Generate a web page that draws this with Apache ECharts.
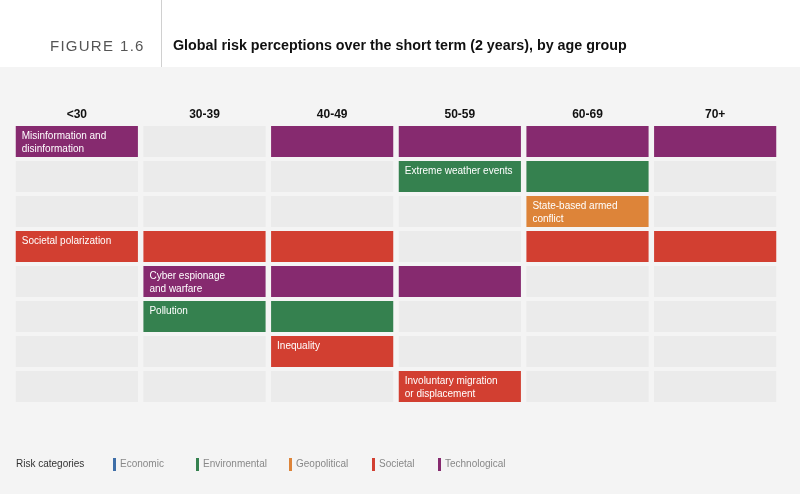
<!DOCTYPE html>
<html>
<head>
<meta charset="utf-8">
<script src="https://cdn.jsdelivr.net/npm/echarts@6/dist/echarts.min.js"></script>
<style>
html,body{margin:0;padding:0;background:#fff;}
#main{width:800px;height:494px;}
</style>
</head>
<body>
<div id="main"></div>
<script>
// ---- data ----
var ageGroups = ['<30', '30-39', '40-49', '50-59', '60-69', '70+'];
var risks = ['Misinformation and\ndisinformation', 'Extreme weather events', 'State-based armed\nconflict', 'Societal polarization', 'Cyber espionage\nand warfare', 'Pollution', 'Inequality', 'Involuntary migration\nor displacement'];
var riskCategory = ['Technological', 'Environmental', 'Geopolitical', 'Societal', 'Technological', 'Environmental', 'Societal', 'Societal'];
var categories = ['Economic', 'Environmental', 'Geopolitical', 'Societal', 'Technological'];
var categoryColors = ['#3e6ea8', '#35814f', '#dd8439', '#d23f31', '#862a6f'];
// 1 = risk is in the age group's top list (rows follow risks order)
var inTop_u30   = [1, 0, 0, 1, 0, 0, 0, 0];
var inTop_30_39 = [0, 0, 0, 1, 1, 1, 0, 0];
var inTop_40_49 = [1, 0, 0, 1, 1, 1, 1, 0];
var inTop_50_59 = [1, 1, 0, 0, 1, 0, 0, 1];
var inTop_60_69 = [1, 1, 1, 1, 0, 0, 0, 0];
var inTop_70p   = [1, 0, 0, 1, 0, 0, 0, 0];
var matrix = [inTop_u30, inTop_30_39, inTop_40_49, inTop_50_59, inTop_60_69, inTop_70p];

// ---- build series ----
var greyData = [];
var catData = categories.map(function(){ return []; });
var labelled = {};
for (var c = 0; c < ageGroups.length; c++) {
  for (var r = 0; r < risks.length; r++) {
    if (matrix[c][r]) {
      var label = '';
      if (!labelled[r]) { label = risks[r]; labelled[r] = true; }
      catData[categories.indexOf(riskCategory[r])].push([c, r, label]);
    } else {
      greyData.push([c, r, '']);
    }
  }
}

function renderCell(params, api) {
  var p = api.coord([api.value(0), api.value(1)]);
  var s = api.size([1, 1]);
  var w = s[0] - 5.5, h = s[1] - 4;
  var x = p[0] - w / 2, y = p[1] - h / 2;
  var children = [{
    type: 'rect',
    shape: {x: x, y: y, width: w, height: h},
    style: {fill: api.visual('color')}
  }];
  var txt = api.value(2);
  if (txt) {
    children.push({
      type: 'text',
      style: {
        x: x + 6, y: y + 4, text: txt, fill: '#fff',
        font: '10px "Liberation Sans", Arial, sans-serif',
        lineHeight: 13, verticalAlign: 'top'
      }
    });
  }
  return {type: 'group', children: children};
}

var series = [{
  type: 'custom', name: 'none', data: greyData, renderItem: renderCell,
  itemStyle: {color: '#ebebeb'}, silent: true
}];
categories.forEach(function(cat, i) {
  series.push({
    type: 'custom', name: cat, data: catData[i], renderItem: renderCell,
    itemStyle: {color: categoryColors[i]}, silent: true
  });
});

var legendLefts = [108, 191, 284, 367, 433];
var legends = categories.map(function(cat, i) {
  return {
    data: [cat], left: legendLefts[i], top: 453, icon: 'rect',
    itemWidth: 3, itemHeight: 13, itemGap: 0,
    textStyle: {color: '#888', fontSize: 10, fontFamily: '"Liberation Sans", Arial, sans-serif', padding: [0,0,0,-1]},
    selectedMode: false
  };
});

var chart = echarts.init(document.getElementById('main'));
chart.setOption({
  backgroundColor: '#fff',
  animation: false,
  graphic: [
    {type: 'rect', left: 0, top: 67, shape: {width: 800, height: 427}, style: {fill: '#f4f4f4'}, z: -10},
    {type: 'line', shape: {x1: 161.5, y1: 0, x2: 161.5, y2: 67}, style: {stroke: '#d0d0d0', lineWidth: 1}},
    {type: 'text', left: 50, top: 39, style: {text: 'F\u200AI\u200AG\u200AU\u200AR\u200AE\u2009 1\u200A.\u200A6', fill: '#555', font: '300 15px "Liberation Sans", Arial, sans-serif'}},
    {type: 'text', left: 173, top: 39, style: {text: 'Global risk perceptions over the short term (2 years), by age group', fill: '#111', font: 'bold 14.3px "Liberation Sans", Arial, sans-serif'}},
    {type: 'text', left: 16, top: 459, style: {text: 'Risk categories', fill: '#333', font: '10px "Liberation Sans", Arial, sans-serif'}}
  ],
  legend: legends,
  grid: {left: 13, top: 124, width: 766, height: 280},
  xAxis: {
    type: 'category', data: ageGroups, position: 'top',
    axisLine: {show: false}, axisTick: {show: false}, splitLine: {show: false},
    axisLabel: {color: '#111', fontWeight: 'bold', fontSize: 12, margin: 3, fontFamily: '"Liberation Sans", Arial, sans-serif'}
  },
  yAxis: {
    type: 'category', data: risks.map(function(r, i){ return String(i); }), inverse: true, show: false
  },
  series: series
});
</script>
</body>
</html>
